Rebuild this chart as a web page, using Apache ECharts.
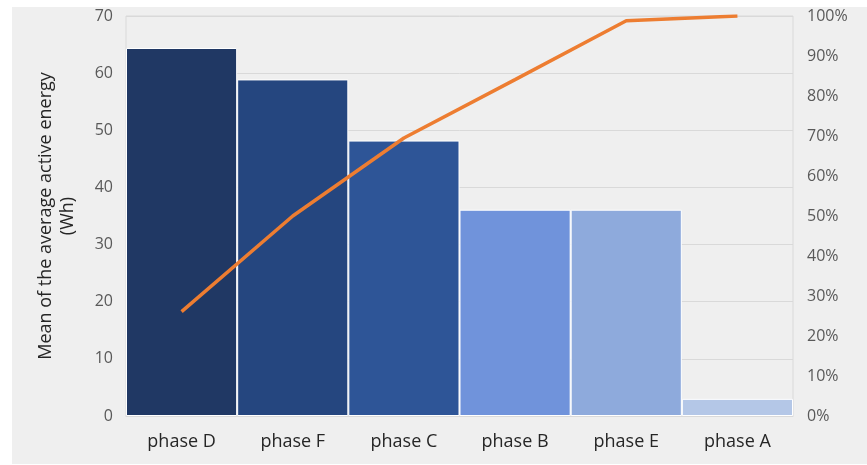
<!DOCTYPE html>
<html>
<head>
<meta charset="utf-8">
<script src="https://cdn.jsdelivr.net/npm/echarts@6/dist/echarts.min.js"></script>
<style>
  html, body { margin: 0; padding: 0; background: #ffffff; }
  #chart { width: 867px; height: 465px; }
</style>
</head>
<body>
<div id="chart"></div>
<script>
// Pareto chart: mean active energy per phase with cumulative share
const categories = ['phase D', 'phase F', 'phase C', 'phase B', 'phase E', 'phase A'];
const energyWh = [64.4, 58.9, 48.2, 36.1, 36.1, 3.0];
const cumulativePct = [26.1, 50.0, 69.5, 84.1, 98.8, 100];
const barColors = ['#203864', '#25467f', '#2e5597', '#7093db', '#8eaadc', '#b4c7e7'];
const leftTicks = { min: 0, max: 70, interval: 10 };
const rightTicks = { min: 0, max: 100, interval: 10 };

const chart = echarts.init(document.getElementById('chart'), null, { renderer: 'canvas' });

const font = '"Open Sans", "Noto Sans", sans-serif';

chart.setOption({
  animation: false,
  backgroundColor: '#ffffff',
  graphic: [{
    type: 'rect',
    z: -10,
    shape: { x: 12, y: 7, width: 855, height: 457 },
    style: { fill: '#efefef' }
  }],
  grid: {
    left: 126, right: 74, top: 16, bottom: 49,
    show: true, borderColor: '#d9d9d9', borderWidth: 1, backgroundColor: 'transparent'
  },
  xAxis: {
    type: 'category',
    data: categories,
    axisLine: { show: true, lineStyle: { color: '#d9d9d9' } },
    axisTick: { show: false },
    axisLabel: { color: '#262626', fontSize: 18, fontFamily: font, margin: 17 }
  },
  yAxis: [{
    type: 'value',
    min: leftTicks.min, max: leftTicks.max, interval: leftTicks.interval,
    name: 'Mean of the average active energy\n(Wh)',
    nameLocation: 'middle',
    nameGap: 47,
    nameTextStyle: { color: '#262626', fontSize: 18, fontFamily: font, lineHeight: 22 },
    axisLine: { show: false },
    axisTick: { show: false },
    axisLabel: { color: '#595959', fontSize: 16, fontFamily: font, margin: 13 },
    splitLine: { lineStyle: { color: '#d9d9d9' } }
  }, {
    type: 'value',
    min: rightTicks.min, max: rightTicks.max, interval: rightTicks.interval,
    position: 'right',
    axisLine: { show: false },
    axisTick: { show: false },
    axisLabel: { color: '#595959', fontSize: 16, fontFamily: font, margin: 14, formatter: '{value}%' },
    splitLine: { show: false }
  }],
  series: [{
    type: 'bar',
    data: energyWh.map((v, i) => ({ value: v, itemStyle: { color: barColors[i] } })),
    barWidth: '100%',
    barCategoryGap: 0,
    itemStyle: { borderColor: '#ffffff', borderWidth: 1 }
  }, {
    type: 'line',
    yAxisIndex: 1,
    data: cumulativePct,
    symbol: 'none',
    lineStyle: { color: '#ed7d31', width: 3.5 },
    z: 5
  }]
});
</script>
</body>
</html>
